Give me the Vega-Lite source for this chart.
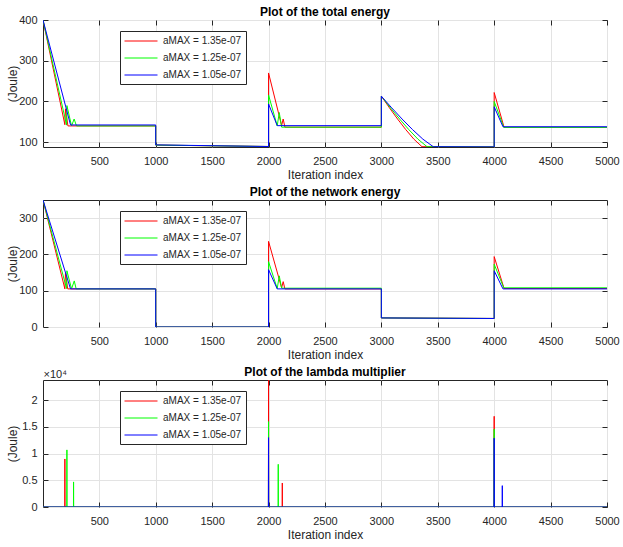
{
  "$schema": "https://vega.github.io/schema/vega-lite/v6.json",
  "background": "white",
  "spacing": 4,
  "datasets": {
    "total": [
      {"s": "aMAX = 1.35e-07", "x": 1, "y": 400},
      {"s": "aMAX = 1.35e-07", "x": 195, "y": 143},
      {"s": "aMAX = 1.35e-07", "x": 200, "y": 182},
      {"s": "aMAX = 1.35e-07", "x": 222, "y": 140},
      {"s": "aMAX = 1.35e-07", "x": 1000, "y": 140},
      {"s": "aMAX = 1.35e-07", "x": 1000, "y": 93},
      {"s": "aMAX = 1.35e-07", "x": 2000, "y": 89.5},
      {"s": "aMAX = 1.35e-07", "x": 2000, "y": 270},
      {"s": "aMAX = 1.35e-07", "x": 2116, "y": 141},
      {"s": "aMAX = 1.35e-07", "x": 2130, "y": 157},
      {"s": "aMAX = 1.35e-07", "x": 2145, "y": 137},
      {"s": "aMAX = 1.35e-07", "x": 3000, "y": 137},
      {"s": "aMAX = 1.35e-07", "x": 3000, "y": 213},
      {"s": "aMAX = 1.35e-07", "x": 3072, "y": 184.3},
      {"s": "aMAX = 1.35e-07", "x": 3144, "y": 156.9},
      {"s": "aMAX = 1.35e-07", "x": 3216, "y": 131.1},
      {"s": "aMAX = 1.35e-07", "x": 3288, "y": 107.6},
      {"s": "aMAX = 1.35e-07", "x": 3360, "y": 89},
      {"s": "aMAX = 1.35e-07", "x": 4000, "y": 88.5},
      {"s": "aMAX = 1.35e-07", "x": 4000, "y": 222},
      {"s": "aMAX = 1.35e-07", "x": 4088, "y": 136.5},
      {"s": "aMAX = 1.35e-07", "x": 5000, "y": 136.5},
      {"s": "aMAX = 1.25e-07", "x": 1, "y": 400},
      {"s": "aMAX = 1.25e-07", "x": 210, "y": 142},
      {"s": "aMAX = 1.25e-07", "x": 213, "y": 190},
      {"s": "aMAX = 1.25e-07", "x": 254, "y": 140},
      {"s": "aMAX = 1.25e-07", "x": 277, "y": 157},
      {"s": "aMAX = 1.25e-07", "x": 298, "y": 140},
      {"s": "aMAX = 1.25e-07", "x": 1000, "y": 140},
      {"s": "aMAX = 1.25e-07", "x": 1000, "y": 93},
      {"s": "aMAX = 1.25e-07", "x": 2000, "y": 89.5},
      {"s": "aMAX = 1.25e-07", "x": 2000, "y": 216},
      {"s": "aMAX = 1.25e-07", "x": 2077, "y": 140},
      {"s": "aMAX = 1.25e-07", "x": 2095, "y": 173},
      {"s": "aMAX = 1.25e-07", "x": 2116, "y": 137},
      {"s": "aMAX = 1.25e-07", "x": 3000, "y": 137},
      {"s": "aMAX = 1.25e-07", "x": 3000, "y": 213},
      {"s": "aMAX = 1.25e-07", "x": 3081, "y": 184.3},
      {"s": "aMAX = 1.25e-07", "x": 3162, "y": 156.9},
      {"s": "aMAX = 1.25e-07", "x": 3243, "y": 131.1},
      {"s": "aMAX = 1.25e-07", "x": 3324, "y": 107.6},
      {"s": "aMAX = 1.25e-07", "x": 3405, "y": 89},
      {"s": "aMAX = 1.25e-07", "x": 4000, "y": 88.5},
      {"s": "aMAX = 1.25e-07", "x": 4000, "y": 200},
      {"s": "aMAX = 1.25e-07", "x": 4085, "y": 136.5},
      {"s": "aMAX = 1.25e-07", "x": 5000, "y": 136.5},
      {"s": "aMAX = 1.05e-07", "x": 1, "y": 400},
      {"s": "aMAX = 1.05e-07", "x": 245, "y": 142.4},
      {"s": "aMAX = 1.05e-07", "x": 1000, "y": 142.4},
      {"s": "aMAX = 1.05e-07", "x": 1000, "y": 93.5},
      {"s": "aMAX = 1.05e-07", "x": 2000, "y": 89.5},
      {"s": "aMAX = 1.05e-07", "x": 2000, "y": 194},
      {"s": "aMAX = 1.05e-07", "x": 2077, "y": 140.7},
      {"s": "aMAX = 1.05e-07", "x": 3000, "y": 140.7},
      {"s": "aMAX = 1.05e-07", "x": 3000, "y": 213},
      {"s": "aMAX = 1.05e-07", "x": 3092, "y": 184.3},
      {"s": "aMAX = 1.05e-07", "x": 3184, "y": 156.9},
      {"s": "aMAX = 1.05e-07", "x": 3276, "y": 131.1},
      {"s": "aMAX = 1.05e-07", "x": 3368, "y": 107.6},
      {"s": "aMAX = 1.05e-07", "x": 3460, "y": 89},
      {"s": "aMAX = 1.05e-07", "x": 4000, "y": 88.5},
      {"s": "aMAX = 1.05e-07", "x": 4000, "y": 187},
      {"s": "aMAX = 1.05e-07", "x": 4078, "y": 138},
      {"s": "aMAX = 1.05e-07", "x": 5000, "y": 138}
    ],
    "network": [
      {"s": "aMAX = 1.35e-07", "x": 1, "y": 350},
      {"s": "aMAX = 1.35e-07", "x": 195, "y": 105},
      {"s": "aMAX = 1.35e-07", "x": 200, "y": 148},
      {"s": "aMAX = 1.35e-07", "x": 220, "y": 105},
      {"s": "aMAX = 1.35e-07", "x": 1000, "y": 105},
      {"s": "aMAX = 1.35e-07", "x": 1000, "y": 0},
      {"s": "aMAX = 1.35e-07", "x": 2000, "y": 0},
      {"s": "aMAX = 1.35e-07", "x": 2000, "y": 236},
      {"s": "aMAX = 1.35e-07", "x": 2116, "y": 108},
      {"s": "aMAX = 1.35e-07", "x": 2130, "y": 125},
      {"s": "aMAX = 1.35e-07", "x": 2145, "y": 105},
      {"s": "aMAX = 1.35e-07", "x": 3000, "y": 105},
      {"s": "aMAX = 1.35e-07", "x": 3000, "y": 25},
      {"s": "aMAX = 1.35e-07", "x": 4000, "y": 23.5},
      {"s": "aMAX = 1.35e-07", "x": 4000, "y": 194},
      {"s": "aMAX = 1.35e-07", "x": 4088, "y": 106},
      {"s": "aMAX = 1.35e-07", "x": 5000, "y": 106},
      {"s": "aMAX = 1.25e-07", "x": 1, "y": 350},
      {"s": "aMAX = 1.25e-07", "x": 210, "y": 106},
      {"s": "aMAX = 1.25e-07", "x": 213, "y": 155},
      {"s": "aMAX = 1.25e-07", "x": 254, "y": 105},
      {"s": "aMAX = 1.25e-07", "x": 278, "y": 127},
      {"s": "aMAX = 1.25e-07", "x": 295, "y": 105},
      {"s": "aMAX = 1.25e-07", "x": 1000, "y": 105},
      {"s": "aMAX = 1.25e-07", "x": 1000, "y": 0},
      {"s": "aMAX = 1.25e-07", "x": 2000, "y": 0},
      {"s": "aMAX = 1.25e-07", "x": 2000, "y": 180},
      {"s": "aMAX = 1.25e-07", "x": 2077, "y": 106},
      {"s": "aMAX = 1.25e-07", "x": 2095, "y": 141},
      {"s": "aMAX = 1.25e-07", "x": 2116, "y": 107},
      {"s": "aMAX = 1.25e-07", "x": 3000, "y": 107},
      {"s": "aMAX = 1.25e-07", "x": 3000, "y": 25},
      {"s": "aMAX = 1.25e-07", "x": 4000, "y": 23.5},
      {"s": "aMAX = 1.25e-07", "x": 4000, "y": 173},
      {"s": "aMAX = 1.25e-07", "x": 4085, "y": 108},
      {"s": "aMAX = 1.25e-07", "x": 5000, "y": 108},
      {"s": "aMAX = 1.05e-07", "x": 1, "y": 350},
      {"s": "aMAX = 1.05e-07", "x": 245, "y": 105},
      {"s": "aMAX = 1.05e-07", "x": 1000, "y": 105},
      {"s": "aMAX = 1.05e-07", "x": 1000, "y": 0},
      {"s": "aMAX = 1.05e-07", "x": 2000, "y": 0},
      {"s": "aMAX = 1.05e-07", "x": 2000, "y": 158},
      {"s": "aMAX = 1.05e-07", "x": 2077, "y": 105},
      {"s": "aMAX = 1.05e-07", "x": 3000, "y": 105},
      {"s": "aMAX = 1.05e-07", "x": 3000, "y": 25},
      {"s": "aMAX = 1.05e-07", "x": 4000, "y": 23.5},
      {"s": "aMAX = 1.05e-07", "x": 4000, "y": 155},
      {"s": "aMAX = 1.05e-07", "x": 4078, "y": 105},
      {"s": "aMAX = 1.05e-07", "x": 5000, "y": 105}
    ],
    "lambda": [
      {"s": "aMAX = 1.35e-07", "x": 1, "y": 0},
      {"s": "aMAX = 1.35e-07", "x": 194, "y": 0},
      {"s": "aMAX = 1.35e-07", "x": 195, "y": 9000},
      {"s": "aMAX = 1.35e-07", "x": 196, "y": 0},
      {"s": "aMAX = 1.35e-07", "x": 1999, "y": 0},
      {"s": "aMAX = 1.35e-07", "x": 2000, "y": 23800},
      {"s": "aMAX = 1.35e-07", "x": 2001, "y": 0},
      {"s": "aMAX = 1.35e-07", "x": 2121, "y": 0},
      {"s": "aMAX = 1.35e-07", "x": 2122, "y": 4500},
      {"s": "aMAX = 1.35e-07", "x": 2123, "y": 0},
      {"s": "aMAX = 1.35e-07", "x": 3999, "y": 0},
      {"s": "aMAX = 1.35e-07", "x": 4000, "y": 17000},
      {"s": "aMAX = 1.35e-07", "x": 4001, "y": 0},
      {"s": "aMAX = 1.35e-07", "x": 5000, "y": 0},
      {"s": "aMAX = 1.25e-07", "x": 1, "y": 0},
      {"s": "aMAX = 1.25e-07", "x": 212, "y": 0},
      {"s": "aMAX = 1.25e-07", "x": 213, "y": 10700},
      {"s": "aMAX = 1.25e-07", "x": 214, "y": 0},
      {"s": "aMAX = 1.25e-07", "x": 271, "y": 0},
      {"s": "aMAX = 1.25e-07", "x": 272, "y": 4700},
      {"s": "aMAX = 1.25e-07", "x": 273, "y": 0},
      {"s": "aMAX = 1.25e-07", "x": 1999, "y": 0},
      {"s": "aMAX = 1.25e-07", "x": 2000, "y": 16000},
      {"s": "aMAX = 1.25e-07", "x": 2001, "y": 0},
      {"s": "aMAX = 1.25e-07", "x": 2085, "y": 0},
      {"s": "aMAX = 1.25e-07", "x": 2086, "y": 8000},
      {"s": "aMAX = 1.25e-07", "x": 2087, "y": 0},
      {"s": "aMAX = 1.25e-07", "x": 3999, "y": 0},
      {"s": "aMAX = 1.25e-07", "x": 4000, "y": 14600},
      {"s": "aMAX = 1.25e-07", "x": 4001, "y": 0},
      {"s": "aMAX = 1.25e-07", "x": 5000, "y": 0},
      {"s": "aMAX = 1.05e-07", "x": 1, "y": 0},
      {"s": "aMAX = 1.05e-07", "x": 1999, "y": 0},
      {"s": "aMAX = 1.05e-07", "x": 2000, "y": 13000},
      {"s": "aMAX = 1.05e-07", "x": 2001, "y": 0},
      {"s": "aMAX = 1.05e-07", "x": 3999, "y": 0},
      {"s": "aMAX = 1.05e-07", "x": 4000, "y": 12900},
      {"s": "aMAX = 1.05e-07", "x": 4001, "y": 0},
      {"s": "aMAX = 1.05e-07", "x": 4071, "y": 0},
      {"s": "aMAX = 1.05e-07", "x": 4072, "y": 4000},
      {"s": "aMAX = 1.05e-07", "x": 4073, "y": 0},
      {"s": "aMAX = 1.05e-07", "x": 5000, "y": 0}
    ]
  },
  "vconcat": [
    {
      "title": {"text": "Plot of the total energy", "offset": -5},
      "width": 564, "height": 127,
      "data": {"name": "total"},
      "layer": [
        {
          "mark": {"type": "line", "strokeWidth": 1, "clip": true},
          "encoding": {
            "x": {"field": "x", "type": "quantitative", "scale": {"domain": [1, 5000], "nice": false, "zero": false},
                  "axis": {"values": [500, 1000, 1500, 2000, 2500, 3000, 3500, 4000, 4500, 5000], "format": "d", "title": "Iteration index"}},
            "y": {"field": "y", "type": "quantitative", "scale": {"domain": [88.3, 400], "nice": false, "zero": false},
                  "axis": {"values": [100, 200, 300, 400], "title": "(Joule)"}},
            "color": {"field": "s", "type": "nominal",
                      "scale": {"domain": ["aMAX = 1.35e-07", "aMAX = 1.25e-07", "aMAX = 1.05e-07"], "range": ["#ff0000", "#00ff00", "#0000ff"]},
                      "legend": {"title": null}}
          }
        },
        {
          "mark": {"type": "line", "opacity": 0},
          "encoding": {
            "x": {"field": "x", "type": "quantitative",
                  "axis": {"orient": "top", "values": [500, 1000, 1500, 2000, 2500, 3000, 3500, 4000, 4500, 5000], "labels": false, "grid": false, "title": null}},
            "y": {"field": "y", "type": "quantitative",
                  "axis": {"orient": "right", "values": [100, 200, 300, 400], "labels": false, "grid": false, "title": null}}
          }
        }
      ],
      "resolve": {"axis": {"x": "independent", "y": "independent"}}
    },
    {
      "title": {"text": "Plot of the network energy", "offset": 1},
      "width": 564, "height": 127,
      "data": {"name": "network"},
      "layer": [
        {
          "mark": {"type": "line", "strokeWidth": 1, "clip": true},
          "encoding": {
            "x": {"field": "x", "type": "quantitative", "scale": {"domain": [1, 5000], "nice": false, "zero": false},
                  "axis": {"values": [500, 1000, 1500, 2000, 2500, 3000, 3500, 4000, 4500, 5000], "format": "d", "title": "Iteration index"}},
            "y": {"field": "y", "type": "quantitative", "scale": {"domain": [0, 350], "nice": false},
                  "axis": {"values": [0, 100, 200, 300], "title": "(Joule)"}},
            "color": {"field": "s", "type": "nominal",
                      "scale": {"domain": ["aMAX = 1.35e-07", "aMAX = 1.25e-07", "aMAX = 1.05e-07"], "range": ["#ff0000", "#00ff00", "#0000ff"]},
                      "legend": {"title": null}}
          }
        },
        {
          "mark": {"type": "line", "opacity": 0},
          "encoding": {
            "x": {"field": "x", "type": "quantitative",
                  "axis": {"orient": "top", "values": [500, 1000, 1500, 2000, 2500, 3000, 3500, 4000, 4500, 5000], "labels": false, "grid": false, "title": null}},
            "y": {"field": "y", "type": "quantitative",
                  "axis": {"orient": "right", "values": [0, 100, 200, 300], "labels": false, "grid": false, "title": null}}
          }
        }
      ],
      "resolve": {"axis": {"x": "independent", "y": "independent"}}
    },
    {
      "title": {"text": "Plot of the lambda multiplier", "offset": -11},
      "width": 564, "height": 127,
      "data": {"name": "lambda"},
      "layer": [
        {
          "mark": {"type": "line", "strokeWidth": 1, "clip": true},
          "encoding": {
            "x": {"field": "x", "type": "quantitative", "scale": {"domain": [1, 5000], "nice": false, "zero": false},
                  "axis": {"values": [500, 1000, 1500, 2000, 2500, 3000, 3500, 4000, 4500, 5000], "format": "d", "title": "Iteration index"}},
            "y": {"field": "y", "type": "quantitative", "scale": {"domain": [0, 23800], "nice": false},
                  "axis": {"values": [0, 5000, 10000, 15000, 20000], "labelExpr": "datum.value / 10000", "title": "(Joule)"}},
            "color": {"field": "s", "type": "nominal",
                      "scale": {"domain": ["aMAX = 1.35e-07", "aMAX = 1.25e-07", "aMAX = 1.05e-07"], "range": ["#ff0000", "#00ff00", "#0000ff"]},
                      "legend": {"title": null}}
          }
        },
        {
          "mark": {"type": "line", "opacity": 0},
          "encoding": {
            "x": {"field": "x", "type": "quantitative",
                  "axis": {"orient": "top", "values": [500, 1000, 1500, 2000, 2500, 3000, 3500, 4000, 4500, 5000], "labels": false, "grid": false,
                           "title": "×10⁴", "titleX": 0, "titleY": -1, "titleAlign": "left", "titleBaseline": "bottom", "titleAngle": 0, "titleFontSize": 11}},
            "y": {"field": "y", "type": "quantitative",
                  "axis": {"orient": "right", "values": [0, 5000, 10000, 15000, 20000], "labels": false, "grid": false, "title": null}}
          }
        }
      ],
      "resolve": {"axis": {"x": "independent", "y": "independent"}}
    }
  ],
  "resolve": {"scale": {"color": "independent"}, "legend": {"color": "independent"}},
  "config": {
    "font": "Liberation Sans",
    "view": {"stroke": "#262626", "strokeWidth": 1},
    "title": {"fontSize": 12, "fontWeight": "bold", "color": "#000000"},
    "axis": {
      "domain": false, "grid": true, "gridColor": "#e3e3e3", "gridWidth": 1,
      "ticks": true, "tickColor": "#262626", "tickSize": -5, "labelFlush": false,
      "labelFont": "Liberation Sans", "labelFontSize": 11, "labelColor": "#262626",
      "titleFont": "Liberation Sans", "titleFontSize": 12, "titleFontWeight": "normal", "titleColor": "#262626"
    },
    "axisBottom": {"labelPadding": 13, "titleY": 27, "titleBaseline": "middle"},
    "axisLeft": {"labelPadding": 11, "titleX": -31, "titleY": 63.5, "titleBaseline": "middle", "titleAlign": "center"},
    "legend": {
      "orient": "none", "legendX": 77, "legendY": 11,
      "strokeColor": "#262626", "fillColor": "white", "padding": 4,
      "labelFont": "Liberation Sans", "labelFontSize": 10, "labelColor": "#262626", "labelOffset": 27,
      "symbolType": "M-1,0H5", "symbolSize": 121, "symbolStrokeWidth": 1, "rowPadding": 6
    }
  }
}
